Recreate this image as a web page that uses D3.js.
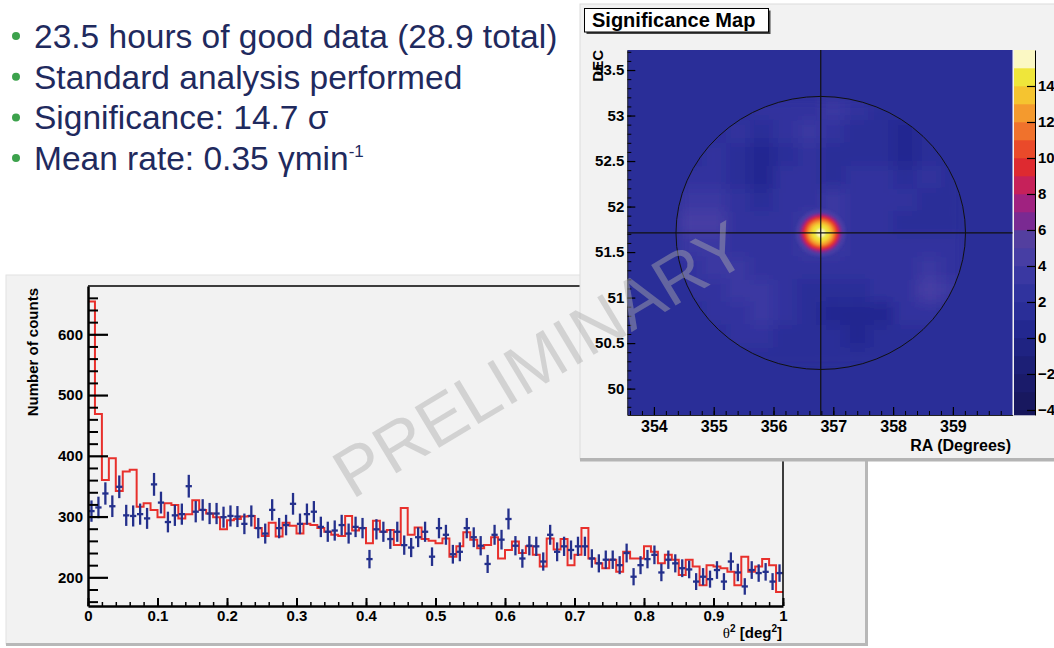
<!DOCTYPE html>
<html lang="en">
<head>
<meta charset="UTF-8">
<title>Significance Map</title>
<script src="https://d3js.org/d3.v7.min.js"></script>
<style>
    body { margin: 0; background: #fff; }
    svg text { font-family: "Liberation Sans", Arial, Helvetica, sans-serif; }
    .bold { font-weight: bold; }
</style>
</head>
<body>
<script>
    const width = 1054;
    const height = 648;

    // slide text
    const bulletLines = ["23.5 hours of good data (28.9 total)", "Standard analysis performed",
                         "Significance: 14.7 σ", "Mean rate: 0.35 γmin"];
    const bulletSup = ["", "", "", "-1"];

    // theta^2 distribution, bins of 0.01 deg^2
    const binWidth = 0.01;
    const onCounts = [309, 315, 338, 317, 349, 302, 301, 304, 297, 353,
                      323, 291, 302, 304, 350, 308, 311, 305, 305, 299,
                      301, 300, 288, 301, 281, 272, 311, 281, 286, 321,
                      288, 304, 308, 283, 275, 277, 286, 272, 283, 281,
                      230, 279, 275, 263, 275, 253, 249, 266, 275, 234,
                      281, 270, 238, 242, 281, 266, 252, 222, 270, 262,
                      296, 252, 231, 252, 251, 226, 270, 242, 251, 245,
                      251, 251, 231, 223, 229, 229, 220, 240, 201, 220,
                      230, 237, 208, 229, 223, 215, 213, 193, 201, 197,
                      212, 193, 226, 208, 185, 212, 207, 209, 193, 207];
    const offCounts = [654, 469, 360, 396, 342, 374, 377, 316, 322, 311,
                       299, 322, 319, 297, 304, 327, 311, 305, 299, 279,
                       294, 296, 300, 301, 281, 268, 290, 267, 290, 285,
                       272, 288, 286, 281, 275, 270, 268, 301, 277, 281,
                       256, 293, 275, 278, 253, 314, 270, 282, 263, 260,
                       256, 264, 234, 251, 274, 262, 248, 253, 266, 231,
                       245, 259, 240, 251, 237, 218, 264, 246, 263, 220,
                       237, 281, 231, 223, 215, 229, 209, 242, 231, 231,
                       251, 242, 223, 237, 229, 204, 229, 218, 187, 220,
                       218, 215, 209, 187, 234, 209, 218, 230, 220, 176];
    const yTicks = [200, 300, 400, 500, 600];
    const yMinorTicks = [160, 180, 220, 240, 260, 280, 320, 340, 360, 380, 420, 440, 460, 480,
                         520, 540, 560, 580, 620, 640, 660];
    const xTicks = [0, 0.1, 0.2, 0.3, 0.4, 0.5, 0.6, 0.7, 0.8, 0.9, 1];
    const xTickLabels = ["0", "0.1", "0.2", "0.3", "0.4", "0.5", "0.6", "0.7", "0.8", "0.9", "1"];

    // significance map
    const raTicks = [354, 355, 356, 357, 358, 359];
    const raTickLabels = ["354", "355", "356", "357", "358", "359"];
    const decTicks = [50, 50.5, 51, 51.5, 52, 52.5, 53, 53.5];
    const decTickLabels = ["50", "50.5", "51", "51.5", "52", "52.5", "53", "53.5"];
    const cbTicks = [-4, -2, 0, 2, 4, 6, 8, 10, 12, 14];
    const paletteEdges = [-4, -3, -2, -1, 0, 1, 2, 3, 4, 5, 6, 7, 8, 9, 10, 11, 12, 13, 14, 15];
    const paletteColors = ["#15155a", "#18185f", "#1a1b6a", "#1c1f76", "#1f2382", "#232890",
                           "#2a2e98", "#30339e", "#3a38a2", "#473ea4", "#533f9f", "#7a2a92",
                           "#a02280", "#c6215a", "#de2a30", "#ea4a2a", "#f0722c", "#f49a2e",
                           "#f5c430", "#efe63a", "#fbf8c4"];
    const sourceRA = 356.79;
    const sourceDEC = 51.71;
    const fovRadius = 1.5;       // deg
    const outsideSig = 1;
    // coarse sky map inside the field of view (rows from top)
    const gridRA = [354.4, 354.8, 355.2, 355.6, 356.0, 356.4, 356.8, 357.2, 357.6, 358.0, 358.4, 358.8, 359.2];
    const gridDEC = [53.2, 52.95, 52.7, 52.45, 52.2, 51.95, 51.7, 51.45, 51.2, 50.95, 50.7, 50.45, 50.2];
    const gridSig = [
        [1, 1, 1, 2, 2, 2, 3, 2, 1, 1, 1, 1],
        [1, 1, 2, 1, 2, 3, 2, 1, 1, 0, 1, 1],
        [1, 2, 1, 0, 1, 2, 1, 1, 1, 0, 1, 1],
        [2, 2, 1, 0, 2, 2, 1, 2, 2, 1, 2, 1],
        [3, 3, 2, 1, 2, 2, 3, 2, 2, 2, 1, 1],
        [4, 4, 2, 2, 2, 3, 3, 2, 2, 1, 1, 1],
        [3, 3, 2, 2, 2, 3, 3, 2, 2, 2, 2, 2],
        [2, 3, 3, 2, 2, 2, 2, 2, 2, 2, 3, 2],
        [2, 2, 3, 3, 2, 1, 1, 1, 2, 2, 4, 3],
        [1, 2, 2, 3, 2, 1, 0, 0, 0, 2, 2, 1],
        [1, 1, 2, 2, 1, 1, 1, 0, 1, 1, 1, 1],
        [1, 1, 1, 1, 1, 1, 1, 1, 1, 1, 1, 1]
    ];
    // source profile: sky radius (deg) and significance level
    const sourceRadius = [0.26, 0.22, 0.195, 0.18, 0.165, 0.15, 0.135, 0.115, 0.09, 0.045];
    const sourceSig = [4, 6, 8, 9, 10, 11, 12, 13, 14, 15.5];

    const font = '"Liberation Sans", Arial, Helvetica, sans-serif';

    const svg = d3.select("body").append("svg")
            .attr("width", width).attr("height", height);
    svg.append("rect").attr("width", width).attr("height", height).attr("fill", "#fff");

    const defs = svg.append("defs");

    // ---- bullets
    const bullets = svg.append("g");
    bulletLines.forEach((t, i) => {
        const base = 48 + i * 40.7;
        bullets.append("circle").attr("cx", 16).attr("cy", base - 12).attr("r", 4).attr("fill", "#3ca24c");
        const txt = bullets.append("text").attr("x", 34).attr("y", base)
                .attr("font-size", 33.5).attr("fill", "#1f2a5e").text(t);
        if (bulletSup[i]) {
            txt.append("tspan").attr("dy", -13).attr("font-size", 17).text(bulletSup[i]);
        }
    });

    // ---- theta^2 histogram panel
    svg.append("rect").attr("x", 6).attr("y", 275).attr("width", 861).attr("height", 369)
            .attr("fill", "#f2f2f2").attr("stroke", "#e2e2e2");
    svg.append("rect").attr("x", 6).attr("y", 643).attr("width", 862).attr("height", 3).attr("fill", "#b8b8b8");
    svg.append("rect").attr("x", 865).attr("y", 275).attr("width", 3).attr("height", 371).attr("fill", "#b8b8b8");

    const hx = d3.scaleLinear().domain([0, 1]).range([88, 783]);
    const hy = d3.scaleLinear().domain([152.8, 679.5]).range([606, 286]);

    const hist = svg.append("g");
    defs.append("clipPath").attr("id", "hclip").append("rect")
            .attr("x", 88).attr("y", 286).attr("width", 695).attr("height", 320);

    const stepPts = offCounts.map((v, i) => [i * binWidth, v]);
    stepPts.push([offCounts.length * binWidth, offCounts[offCounts.length - 1]]);
    const step = d3.line().x(d => hx(d[0])).y(d => hy(d[1])).curve(d3.curveStepAfter);
    hist.append("path").datum(stepPts).attr("clip-path", "url(#hclip)")
            .attr("d", step).attr("fill", "none").attr("stroke", "#e8302c").attr("stroke-width", 2);

    const pts = hist.append("g").attr("clip-path", "url(#hclip)")
            .selectAll("g").data(onCounts.map((v, i) => ({i, v}))).join("g")
            .attr("stroke", "#24308c").attr("stroke-width", 2.3);
    pts.append("line")
            .attr("x1", d => hx((d.i + 0.05) * binWidth)).attr("x2", d => hx((d.i + 0.95) * binWidth))
            .attr("y1", d => hy(d.v)).attr("y2", d => hy(d.v));
    pts.append("line")
            .attr("x1", d => hx((d.i + 0.5) * binWidth)).attr("x2", d => hx((d.i + 0.5) * binWidth))
            .attr("y1", d => hy(d.v - Math.sqrt(d.v))).attr("y2", d => hy(d.v + Math.sqrt(d.v)));

    function styleAxis(g, size, width) {
        g.attr("font-family", font).attr("font-size", size).attr("font-weight", "bold");
        g.selectAll(".tick line").attr("stroke", "#000").attr("stroke-width", width);
        g.selectAll(".tick text").attr("fill", "#000");
    }

    // frame
    hist.append("line").attr("x1", 88).attr("x2", 783).attr("y1", 286).attr("y2", 286)
            .attr("stroke", "#000").attr("stroke-width", 1.5);
    hist.append("line").attr("x1", 783).attr("x2", 783).attr("y1", 286).attr("y2", 606)
            .attr("stroke", "#000").attr("stroke-width", 1.5);

    const yMinor = hist.append("g").attr("transform", "translate(88,0)")
            .call(d3.axisLeft(hy).tickValues(yMinorTicks).tickSize(-10).tickFormat(""));
    yMinor.select(".domain").remove();
    styleAxis(yMinor, 15, 2);
    const yAxis = hist.append("g").attr("transform", "translate(88,0)")
            .call(d3.axisLeft(hy).tickValues(yTicks).tickSize(-20).tickPadding(5).tickSizeOuter(0));
    styleAxis(yAxis, 15, 2.2);
    yAxis.select(".domain").attr("stroke-width", 2.5);

    const xMinorTicks = d3.range(0, 51).map(i => i * 0.02);
    const xMinor = hist.append("g").attr("transform", "translate(0,606)")
            .call(d3.axisBottom(hx).tickValues(xMinorTicks).tickSize(-4).tickFormat(""));
    xMinor.select(".domain").remove();
    styleAxis(xMinor, 15, 1.5);
    const xAxis = hist.append("g").attr("transform", "translate(0,606)")
            .call(d3.axisBottom(hx).tickValues(xTicks).tickSize(-8).tickPadding(4).tickSizeOuter(0)
                    .tickFormat((d, i) => xTickLabels[i]));
    styleAxis(xAxis, 15, 2);
    xAxis.select(".domain").attr("stroke-width", 2.5);

    hist.append("text").attr("transform", "translate(38,288) rotate(-90)")
            .attr("text-anchor", "end").attr("class", "bold").attr("font-size", 15).text("Number of counts");
    const xt = hist.append("text").attr("x", 782).attr("y", 638).attr("text-anchor", "end")
            .attr("class", "bold").attr("font-size", 15);
    xt.append("tspan").attr("font-family", '"Liberation Serif", "DejaVu Serif", serif').attr("font-weight", "normal").text("θ");
    xt.append("tspan").attr("font-size", 10).attr("dy", -6).text("2");
    xt.append("tspan").attr("dy", 6).text(" [deg");
    xt.append("tspan").attr("font-size", 10).attr("dy", -6).text("2");
    xt.append("tspan").attr("dy", 6).text("]");

    // ---- significance map panel
    svg.append("rect").attr("x", 580).attr("y", 4).attr("width", 480).attr("height", 455)
            .attr("fill", "#f2f2f2").attr("stroke", "#dcdcdc");
    svg.append("rect").attr("x", 580).attr("y", 458).attr("width", 480).attr("height", 3.5).attr("fill", "#b4b4b4");

    const mx = d3.scaleLinear().domain([353.555, 360]).range([627.3, 1012.7]);
    const my = d3.scaleLinear().domain([49.71, 53.72]).range([415, 50]);
    const sigColor = d3.scaleThreshold().domain(paletteEdges).range(paletteColors);
    const cosDec = Math.cos(sourceDEC * Math.PI / 180);

    defs.append("clipPath").attr("id", "mclip").append("rect")
            .attr("x", mx.range()[0]).attr("y", my.range()[1])
            .attr("width", mx.range()[1] - mx.range()[0]).attr("height", my.range()[0] - my.range()[1]);
    defs.append("clipPath").attr("id", "fovclip").append("ellipse")
            .attr("cx", mx(sourceRA)).attr("cy", my(sourceDEC))
            .attr("rx", mx(sourceRA + fovRadius / cosDec) - mx(sourceRA))
            .attr("ry", my(sourceDEC) - my(sourceDEC + fovRadius));
    const fBg = defs.append("filter").attr("id", "blurBg")
            .attr("x", "-10%").attr("y", "-10%").attr("width", "120%").attr("height", "120%");
    fBg.append("feGaussianBlur").attr("stdDeviation", 7);
    const fSrc = defs.append("filter").attr("id", "blurSrc")
            .attr("x", "-50%").attr("y", "-50%").attr("width", "200%").attr("height", "200%");
    fSrc.append("feGaussianBlur").attr("stdDeviation", 1.3);

    const map = svg.append("g").attr("clip-path", "url(#mclip)");
    map.append("rect").attr("x", mx.range()[0]).attr("y", my.range()[1])
            .attr("width", mx.range()[1] - mx.range()[0]).attr("height", my.range()[0] - my.range()[1])
            .attr("fill", sigColor(outsideSig));

    const cells = [];
    gridSig.forEach((row, r) => row.forEach((v, c) => cells.push({r, c, v})));
    map.append("g").attr("clip-path", "url(#fovclip)")
            .append("g").attr("filter", "url(#blurBg)")
            .selectAll("rect").data(cells).join("rect")
            .attr("x", d => mx(gridRA[d.c])).attr("y", d => my(gridDEC[d.r]))
            .attr("width", d => mx(gridRA[d.c + 1]) - mx(gridRA[d.c]) + 0.5)
            .attr("height", d => my(gridDEC[d.r + 1]) - my(gridDEC[d.r]) + 0.5)
            .attr("fill", d => sigColor(d.v));

    map.append("g").attr("filter", "url(#blurSrc)")
            .selectAll("ellipse").data(sourceRadius).join("ellipse")
            .attr("cx", mx(sourceRA)).attr("cy", my(sourceDEC))
            .attr("rx", d => mx(sourceRA + d / cosDec) - mx(sourceRA))
            .attr("ry", d => my(sourceDEC) - my(sourceDEC + d))
            .attr("fill", (d, i) => sigColor(sourceSig[i]));

    map.append("ellipse").attr("cx", mx(sourceRA)).attr("cy", my(sourceDEC))
            .attr("rx", mx(sourceRA + fovRadius / cosDec) - mx(sourceRA))
            .attr("ry", my(sourceDEC) - my(sourceDEC + fovRadius))
            .attr("fill", "none").attr("stroke", "#111").attr("stroke-width", 1);
    map.append("line").attr("x1", mx(sourceRA)).attr("x2", mx(sourceRA))
            .attr("y1", my.range()[1]).attr("y2", my.range()[0]).attr("stroke", "#111").attr("stroke-width", 1.2);
    map.append("line").attr("x1", mx.range()[0]).attr("x2", mx.range()[1])
            .attr("y1", my(sourceDEC)).attr("y2", my(sourceDEC)).attr("stroke", "#111").attr("stroke-width", 1.2);

    const decMinor = d3.range(0, 40).map(i => 49.8 + i * 0.1).filter(v => v <= 53.7);
    const mdMinor = svg.append("g").attr("transform", `translate(${mx.range()[0]},0)`)
            .call(d3.axisLeft(my).tickValues(decMinor).tickSize(-4).tickFormat(""));
    mdMinor.select(".domain").remove();
    styleAxis(mdMinor, 15, 1);
    const decAxis = svg.append("g").attr("transform", `translate(${mx.range()[0]},0)`)
            .call(d3.axisLeft(my).tickValues(decTicks).tickSize(-8).tickPadding(3).tickSizeOuter(0)
                    .tickFormat((d, i) => decTickLabels[i]));
    styleAxis(decAxis, 15, 1.2);
    decAxis.select(".domain").attr("stroke", "#222");

    const raMinor = d3.range(0, 33).map(i => 353.6 + i * 0.2).filter(v => v < 360);
    const mrMinor = svg.append("g").attr("transform", `translate(0,${my.range()[0]})`)
            .call(d3.axisBottom(mx).tickValues(raMinor).tickSize(-4).tickFormat(""));
    mrMinor.select(".domain").remove();
    styleAxis(mrMinor, 15, 1);
    const raAxis = svg.append("g").attr("transform", `translate(0,${my.range()[0]})`)
            .call(d3.axisBottom(mx).tickValues(raTicks).tickSize(-8).tickPadding(6).tickSizeOuter(0)
                    .tickFormat((d, i) => raTickLabels[i]));
    styleAxis(raAxis, 16, 1.2);
    raAxis.select(".domain").attr("stroke", "#222");

    svg.append("text").attr("transform", "translate(603,50) rotate(-90)").attr("text-anchor", "end")
            .attr("class", "bold").attr("font-size", 15).text("DEC");
    svg.append("text").attr("x", 1011).attr("y", 451).attr("text-anchor", "end")
            .attr("class", "bold").attr("font-size", 16).text("RA (Degrees)");

    // colour bar
    const cb = d3.scaleLinear().domain([-4.28, 16]).range([415, 50]);
    const cbEdges = [cb.domain()[0]].concat(paletteEdges, [cb.domain()[1]]);
    svg.append("g").selectAll("rect").data(d3.pairs(cbEdges)).join("rect")
            .attr("x", 1014).attr("width", 21)
            .attr("y", d => cb(d[1])).attr("height", d => cb(d[0]) - cb(d[1]) + 0.3)
            .attr("fill", (d, i) => paletteColors[i]);
    const cbAxis = svg.append("g").attr("transform", "translate(1035,0)")
            .call(d3.axisRight(cb).tickValues(cbTicks).tickSize(-8).tickPadding(3).tickSizeOuter(0));
    styleAxis(cbAxis, 15, 1.2);

    // title box
    svg.append("rect").attr("x", 586.5).attr("y", 10.5).attr("width", 184).attr("height", 23.5).attr("fill", "#444");
    svg.append("rect").attr("x", 584.5).attr("y", 8.5).attr("width", 184).attr("height", 23.5)
            .attr("fill", "#fff").attr("stroke", "#000").attr("stroke-width", 1);
    svg.append("text").attr("x", 592).attr("y", 27).attr("class", "bold").attr("font-size", 20)
            .text("Significance Map");

    // watermark
    svg.append("text").attr("transform", "translate(352,500) rotate(-31)")
            .attr("font-size", 69).attr("fill", "#aaaaaa").attr("fill-opacity", 0.45)
            .text("PRELIMINARY");
</script>
</body>
</html>
